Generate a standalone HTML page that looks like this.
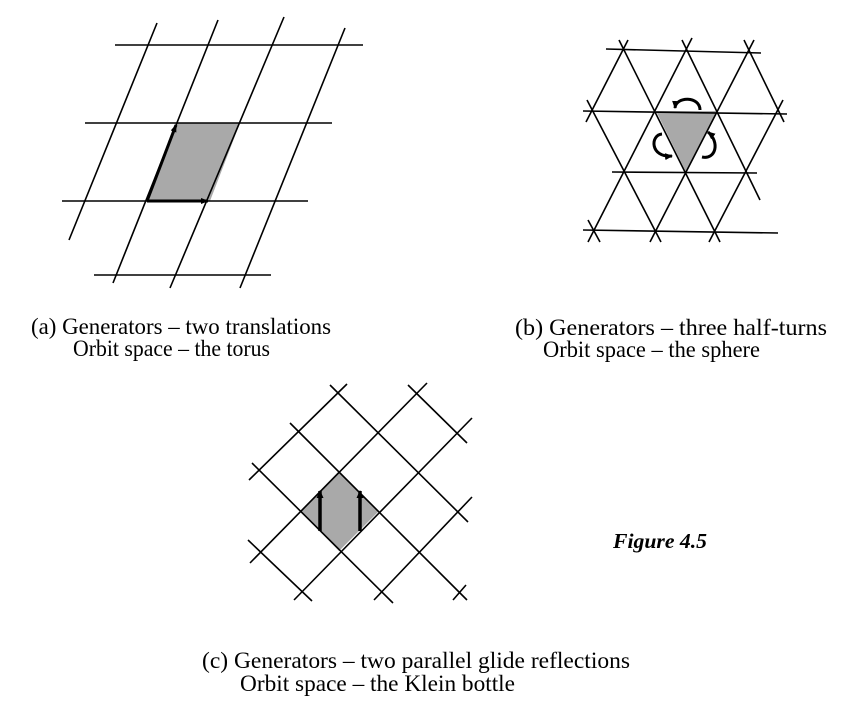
<!DOCTYPE html>
<html><head><style>body{margin:0;background:#fff}svg{display:block}</style></head><body>
<svg width="849" height="705" viewBox="0 0 849 705" xmlns="http://www.w3.org/2000/svg">
<defs>
<marker id="ah" markerWidth="8" markerHeight="6" refX="7" refY="3" orient="auto" markerUnits="userSpaceOnUse"><path d="M0,0 L8,3 L0,6 Z" fill="#000"/></marker>
<marker id="ah2" markerWidth="8" markerHeight="7" refX="7" refY="3.5" orient="auto" markerUnits="userSpaceOnUse"><path d="M0,0 L8,3.5 L0,7 Z" fill="#000"/></marker>
</defs>
<g stroke="#000" stroke-width="1.6" fill="none">
<!-- (a) -->
<polygon points="176,123 240,123 210,201 147,201" fill="#a9a9a9" stroke="none"/>
<line x1="115" y1="45" x2="363" y2="45"/>
<line x1="85" y1="123" x2="332" y2="123"/>
<line x1="62" y1="201" x2="308" y2="201"/>
<line x1="94" y1="275" x2="271" y2="275"/>
<line x1="157" y1="23" x2="69" y2="240"/>
<line x1="218" y1="20" x2="113" y2="283"/>
<line x1="284" y1="17" x2="170" y2="288"/>
<line x1="345" y1="28" x2="240" y2="288"/>
<line x1="147" y1="201" x2="176" y2="125" stroke-width="3" marker-end="url(#ah)"/>
<line x1="147" y1="201" x2="208" y2="201" stroke-width="3" marker-end="url(#ah)"/>
<!-- (b) -->
<polygon points="656,111 718,111 686,172" fill="#a9a9a9" stroke="none"/>
<line x1="606" y1="49" x2="761" y2="53"/>
<line x1="583" y1="111" x2="787" y2="114"/>
<line x1="612" y1="172" x2="757" y2="173"/>
<line x1="583" y1="230" x2="778" y2="233"/>
<line x1="586" y1="122" x2="628" y2="40"/>
<line x1="588" y1="242" x2="692" y2="38"/>
<line x1="650" y1="242" x2="754" y2="40"/>
<line x1="709" y1="242" x2="783" y2="100"/>
<line x1="619" y1="40" x2="720" y2="242"/>
<line x1="682" y1="40" x2="760" y2="200"/>
<line x1="744" y1="40" x2="784" y2="122"/>
<line x1="587" y1="100" x2="661" y2="242"/>
<line x1="588" y1="220" x2="600" y2="242"/>
<path d="M700,110 C700,96 676,96 675,108" stroke-width="3" marker-end="url(#ah2)"/>
<path d="M662,134 C650,135 650,158 672,156" stroke-width="3" marker-end="url(#ah2)"/>
<path d="M702,157 C716,160 720,142 708,132" stroke-width="3" marker-end="url(#ah2)"/>
<!-- (c) -->
<polygon points="339,471 379,511 339,551 300,511" fill="#a9a9a9" stroke="none"/>
<line x1="330" y1="385" x2="468" y2="522"/>
<line x1="290" y1="423" x2="467" y2="600"/>
<line x1="408" y1="385" x2="467" y2="443"/>
<line x1="252" y1="463" x2="393" y2="603"/>
<line x1="248" y1="540" x2="312" y2="601"/>
<line x1="250" y1="563" x2="427" y2="383"/>
<line x1="294" y1="600" x2="472" y2="418"/>
<line x1="374" y1="600" x2="472" y2="497"/>
<line x1="249" y1="480" x2="347" y2="384"/>
<line x1="453" y1="600" x2="466" y2="585"/>
<line x1="320" y1="531" x2="320" y2="491" stroke-width="3.5" marker-end="url(#ah2)"/>
<line x1="360" y1="531" x2="360" y2="491" stroke-width="3.5" marker-end="url(#ah2)"/>
</g>
<g font-family="Liberation Serif, serif" font-size="23" fill="#000">
<text x="31" y="334" textLength="300" lengthAdjust="spacingAndGlyphs">(a)  Generators – two translations</text>
<text x="73" y="356" textLength="197" lengthAdjust="spacingAndGlyphs">Orbit space – the torus</text>
<text x="515" y="335" textLength="312" lengthAdjust="spacingAndGlyphs">(b)  Generators – three half-turns</text>
<text x="543" y="357" textLength="217" lengthAdjust="spacingAndGlyphs">Orbit space – the sphere</text>
<text x="202" y="668" textLength="428" lengthAdjust="spacingAndGlyphs">(c)  Generators – two parallel glide reflections</text>
<text x="240" y="691" textLength="275" lengthAdjust="spacingAndGlyphs">Orbit space – the Klein bottle</text>
<text x="613" y="548" font-weight="bold" font-style="italic" font-size="21" textLength="94" lengthAdjust="spacingAndGlyphs">Figure 4.5</text>
</g>
</svg>
</body></html>
